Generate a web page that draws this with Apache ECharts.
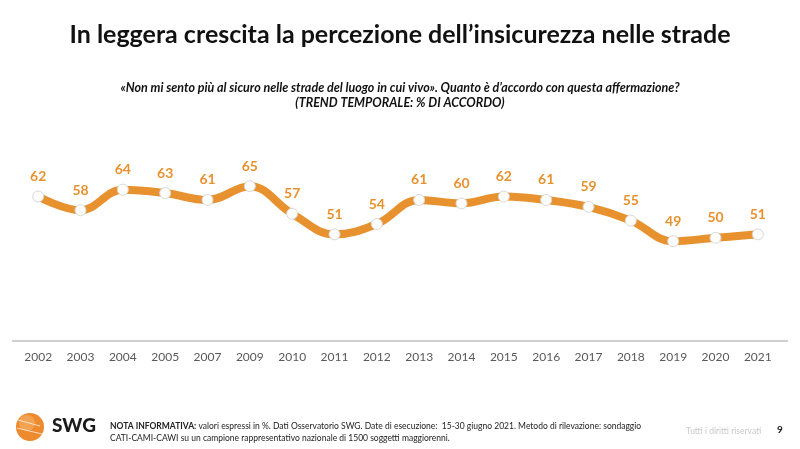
<!DOCTYPE html>
<html><head><meta charset="utf-8">
<script src="https://cdn.jsdelivr.net/npm/echarts@6/dist/echarts.min.js"></script>
<style>html,body{margin:0;padding:0;background:#fff}#c{width:800px;height:449px}</style>
</head><body><div id="c"></div>
<script>
const years = ['2002','2003','2004','2005','2007','2009','2010','2011','2012','2013','2014','2015','2016','2017','2018','2019','2020','2021'];
const values = [62,58,64,63,61,65,57,51,54,61,60,62,61,59,55,49,50,51];
const titleText = 'In leggera crescita la percezione dell\u2019insicurezza nelle strade';
const subtitleLines = ['\u00abNon mi sento pi\u00f9 al sicuro nelle strade del luogo in cui vivo\u00bb. Quanto \u00e8 d\u2019accordo con questa affermazione?', '(TREND TEMPORALE: % DI ACCORDO)'];
const noteBold = 'NOTA INFORMATIVA:';
const noteLine1 = ' valori espressi in %. Dati Osservatorio SWG. Date di esecuzione:  15-30 giugno 2021. Metodo di rilevazione: sondaggio';
const noteLine2 = 'CATI-CAMI-CAWI su un campione rappresentativo nazionale di 1500 soggetti maggiorenni.';

const orange = '#E8922F';
const font = 'Lato, "Open Sans", sans-serif';
const chart = echarts.init(document.getElementById('c'));
chart.setOption({
  animation: false,
  grid: {left: 17, right: 21, top: 134.6, bottom: 108},
  xAxis: {
    type: 'category', data: years, boundaryGap: true,
    axisLine: {lineStyle: {color: '#d0d0d0', width: 2}},
    axisTick: {show: false},
    axisLabel: {color: '#595959', fontSize: 12, fontFamily: font, margin: 10}
  },
  yAxis: {type: 'value', min: 20, max: 80, show: false, splitLine: {show: false}},
  series: [{
    type: 'line', data: values, smooth: 0.4,
    lineStyle: {color: orange, width: 8},
    symbol: 'circle', symbolSize: 11,
    itemStyle: {color: '#fdfdfb', borderColor: '#d8d8d8', borderWidth: 1},
    label: {show: true, position: 'top', distance: 7, color: orange, fontSize: 14, fontWeight: 'bold', fontFamily: font}
  }],
  graphic: [
    {type: 'line', shape: {x1: 12, y1: 341, x2: 788, y2: 341}, style: {stroke: '#d0d0d0', lineWidth: 2}, z: -1},
    {type: 'text', left: 'center', top: 22, style: {text: titleText, font: 'bold 25px ' + font, fill: '#111'}},
    {type: 'text', left: 'center', top: 80, style: {text: subtitleLines.join('\n'), font: 'italic bold 12.5px ' + font, fill: '#111', textAlign: 'center', lineHeight: 15}},
    {type: 'circle', shape: {cx: 30, cy: 427, r: 14}, style: {fill: '#EE8A2E'}},
    {type: 'circle', shape: {cx: 27, cy: 423, r: 8}, style: {fill: '#F6B36A', opacity: 0.6}},
    {type: 'line', shape: {x1: 18, y1: 420, x2: 40, y2: 426}, style: {stroke: '#fff', lineWidth: 1, opacity: 0.7}},
    {type: 'line', shape: {x1: 17, y1: 428, x2: 42, y2: 434}, style: {stroke: '#fff', lineWidth: 1, opacity: 0.7}},
    {type: 'text', left: 52, top: 416, style: {text: 'SWG', font: '900 19px ' + font, fill: '#1a1a1a'}},
    {type: 'text', left: 110, top: 420, style: {rich: {b: {font: 'bold 8.5px ' + font, fill: '#222'}, n: {font: '8.5px ' + font, fill: '#222'}}, text: '{b|' + noteBold + '}{n|' + noteLine1 + '}\n{n|' + noteLine2 + '}', lineHeight: 12}},
    {type: 'text', left: 686, top: 427, style: {text: 'Tutti i diritti riservati', font: '8.5px ' + font, fill: '#c8c8c8'}},
    {type: 'text', left: 777, top: 425, style: {text: '9', font: 'bold 10px ' + font, fill: '#222'}}
  ]
});
</script></body></html>
